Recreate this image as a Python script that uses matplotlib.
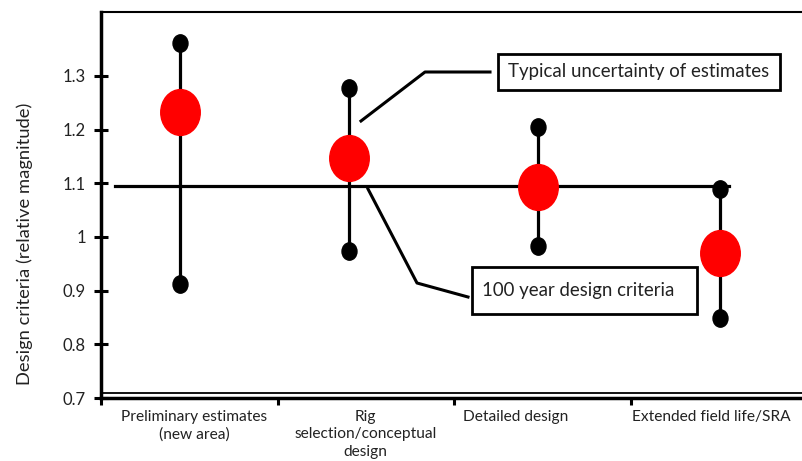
import matplotlib.pyplot as plt
import numpy as np
from matplotlib.path import Path
from matplotlib.patches import Rectangle

# data
stages = ['Preliminary estimates\n(new area)', 'Rig\nselection/conceptual\ndesign',
          'Detailed design', 'Extended field life/SRA']
stage_pos = [0.448, 1.405, 2.476, 3.507]      # where each estimate sits inside its slot
label_pos = [0.527, 1.50, 2.35, 3.456]
best = [1.233, 1.147, 1.093, 0.970]
upper = [1.361, 1.277, 1.205, 1.089]
lower = [0.912, 0.974, 0.983, 0.849]
criteria = 1.095
yticks = [0.7, 0.8, 0.9, 1.0, 1.1, 1.2, 1.3]
yticklabels = ['0.7', '0.8', '0.9', '1', '1.1', '1.2', '1.3']

plt.rcParams['font.family'] = ['Lato', 'DejaVu Sans']

W, H = 802, 461
fig = plt.figure(figsize=(W / 100, H / 100), dpi=100)
ax = fig.add_axes([101 / W, 1 - 398 / H, (W - 101) / W, (398 - 12) / H])
ax.set_xlim(0, (W - 101) / 176.5)
ax.set_ylim(0.7, 0.7 + 386 / 537)

# oval marker (taller than wide)
circ = Path.unit_circle()
oval = Path(circ.vertices * np.array([1.0, 1.16]), circ.codes)

# vertical uncertainty ranges
for x, lo, hi in zip(stage_pos, lower, upper):
    ax.plot([x, x], [lo, hi], color='black', lw=2.3, zorder=2)
ax.plot(stage_pos, upper, linestyle='none', marker=oval, ms=12.5, color='black', zorder=3)
ax.plot(stage_pos, lower, linestyle='none', marker=oval, ms=12.5, color='black', zorder=3)

# design criteria line
ax.plot([0.08, 3.56], [criteria, criteria], color='black', lw=2.3, zorder=4)

# estimates
ax.plot(stage_pos, best, linestyle='none', marker=oval, ms=33, color='#ff0000', zorder=5)

# axes styling
ax.spines['right'].set_visible(False)
ax.spines['top'].set_linewidth(1.5)
ax.spines['left'].set_linewidth(2.5)
ax.spines['bottom'].set_linewidth(2.5)
ax.plot([0, 1], [5 / 386, 5 / 386], transform=ax.transAxes, color='black', lw=1.3,
        clip_on=False, zorder=6)

ax.set_yticks(yticks)
ax.set_yticklabels(yticklabels, fontsize=12, color='#222222')
ax.tick_params(axis='y', direction='inout', length=9.5, width=2.2, pad=6)
ax.set_xticks([0, 1, 2, 3])
ax.set_xticklabels([])
ax.tick_params(axis='x', direction='out', length=5, width=2.2)

for x, lab in zip(label_pos, stages):
    ax.text(x, 0.7 - 12 / 537, lab, ha='center', va='top', fontsize=11.2,
            color='#222222', linespacing=1.3)

ax.set_ylabel('Design criteria (relative magnitude)', fontsize=13.2, color='#222222')
ax.yaxis.set_label_coords(-0.097, 0.40)


def px(x, y):
    return (x - 101) / 176.5, 0.7 + (398 - y) / 537


# callouts
pts = [px(490, 72), px(425, 72), px(361, 121)]
ax.plot([p[0] for p in pts], [p[1] for p in pts], color='black', lw=2.2, zorder=6)
pts = [px(468, 297), px(417, 283), px(368, 189)]
ax.plot([p[0] for p in pts], [p[1] for p in pts], color='black', lw=2.2, zorder=6)

for (x0, y0, x1, y1), txt in [((498, 54, 780, 90), 'Typical uncertainty of estimates'),
                              ((472, 267, 697, 314), '100 year design criteria')]:
    a = px(x0, y1)
    b = px(x1, y0)
    ax.add_patch(Rectangle(a, b[0] - a[0], b[1] - a[1], facecolor='white',
                           edgecolor='black', lw=2, zorder=7))
    t = px(x0 + 10, (y0 + y1) / 2)
    ax.text(t[0], t[1], txt, ha='left', va='center', fontsize=13.4, color='#222222',
            zorder=8)

fig.savefig('out.png', dpi=100)
